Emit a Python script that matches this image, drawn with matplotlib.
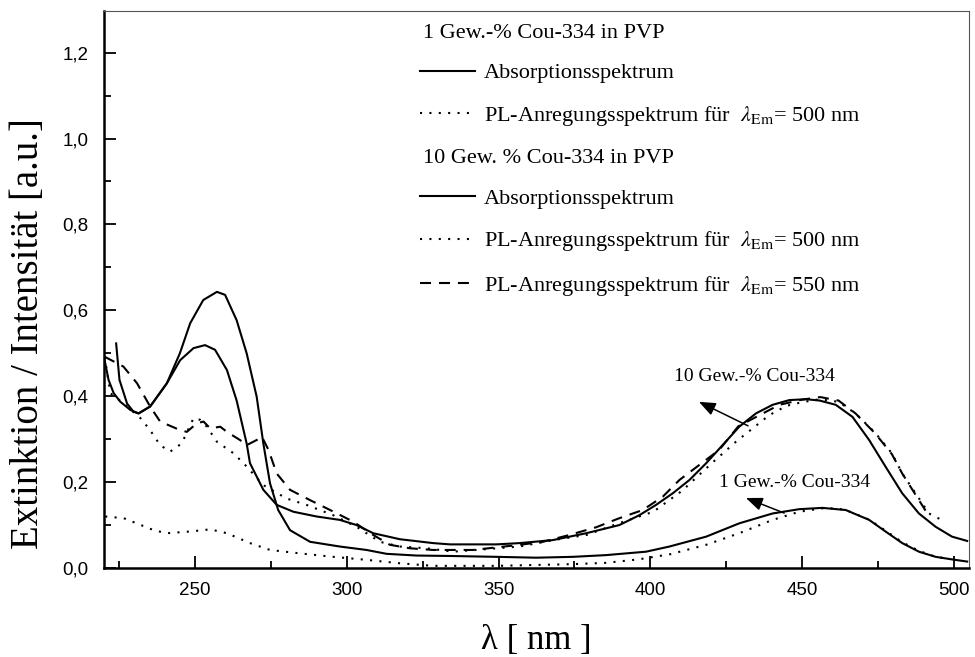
import matplotlib
matplotlib.use("Agg")
import matplotlib.pyplot as plt
from matplotlib.ticker import MultipleLocator, FuncFormatter
import numpy as np

# --- data (wavelength in nm, extinction / intensity) ---
abs1_nm = [224.0, 225.1, 227.6, 229.7, 231.4, 235.2, 240.7, 245.0, 248.4, 252.7,
           257.2, 259.9, 263.7, 267.0, 270.3, 272.5, 274.7, 277.4, 281.3, 287.9,
           297.7, 306.5, 313.1, 323.0, 334.0, 349.3, 362.4, 374.5, 385.4, 398.6,
           406.3, 418.4, 429.3, 440.3, 449.1, 456.7, 464.4, 472.1, 477.5, 483.0,
           488.5, 494.0, 499.4, 504.4]
abs1_val = [0.523, 0.438, 0.383, 0.364, 0.360, 0.376, 0.430, 0.500, 0.570, 0.624,
            0.643, 0.636, 0.577, 0.500, 0.399, 0.290, 0.197, 0.135, 0.088, 0.061,
            0.050, 0.042, 0.033, 0.029, 0.028, 0.026, 0.024, 0.026, 0.030, 0.038,
            0.050, 0.073, 0.104, 0.127, 0.137, 0.140, 0.135, 0.112, 0.085, 0.058,
            0.038, 0.026, 0.020, 0.015]

abs10_nm = [220.2, 221.5, 223.2, 225.4, 228.7, 231.4, 235.2, 240.7, 245.1, 249.5,
            253.3, 256.6, 260.5, 263.7, 267.0, 268.1, 272.5, 276.9, 282.4, 290.0,
            297.7, 303.2, 308.7, 317.5, 328.4, 334.0, 349.3, 357.0, 367.9, 378.9,
            389.8, 396.4, 401.9, 407.4, 412.9, 418.4, 423.8, 429.3, 434.8, 440.3,
            445.8, 451.3, 455.7, 461.1, 466.6, 472.1, 477.5, 483.0, 488.5, 494.0,
            499.4, 504.4]
abs10_val = [0.484, 0.438, 0.407, 0.387, 0.368, 0.360, 0.376, 0.430, 0.484, 0.512,
             0.519, 0.508, 0.461, 0.390, 0.290, 0.244, 0.182, 0.147, 0.131, 0.120,
             0.112, 0.100, 0.081, 0.067, 0.058, 0.055, 0.055, 0.058, 0.065, 0.081,
             0.100, 0.123, 0.147, 0.174, 0.205, 0.244, 0.286, 0.329, 0.360, 0.380,
             0.391, 0.393, 0.390, 0.380, 0.352, 0.298, 0.236, 0.174, 0.127, 0.096,
             0.073, 0.063]

pl1_500_nm = [220.4, 226.5, 236.4, 240.7, 248.4, 255.0, 260.5, 268.1, 274.7, 284.6,
              295.5, 306.5, 317.5, 328.4, 349.3, 374.5, 385.4, 396.0, 406.5, 418.4,
              429.3, 440.3, 449.1, 457.7, 464.0, 472.0, 477.5, 483.0, 488.5, 494.0,
              498.0]
pl1_500_val = [0.120, 0.116, 0.088, 0.081, 0.085, 0.090, 0.081, 0.058, 0.042, 0.034,
               0.026, 0.019, 0.011, 0.005, 0.005, 0.009, 0.012, 0.020, 0.032, 0.054,
               0.081, 0.112, 0.131, 0.140, 0.136, 0.113, 0.087, 0.060, 0.040, 0.026,
               0.022]

pl10_500_nm = [220.2, 222.1, 226.5, 232.0, 235.2, 238.5, 241.8, 245.6, 249.5, 251.7,
               253.9, 257.2, 262.7, 266.5, 272.5, 280.1, 286.7, 295.5, 303.2, 310.9,
               317.5, 326.2, 335.0, 357.0, 368.0, 379.0, 390.0, 401.0, 410.5, 420.4,
               428.2, 439.2, 445.0, 450.0, 455.7, 462.0, 467.6, 474.2, 479.6, 483.0,
               487.4, 491.8, 496.5]
pl10_500_val = [0.492, 0.407, 0.383, 0.349, 0.321, 0.286, 0.271, 0.290, 0.349, 0.345,
                0.329, 0.294, 0.267, 0.240, 0.193, 0.162, 0.147, 0.123, 0.096, 0.061,
                0.050, 0.046, 0.038, 0.050, 0.065, 0.077, 0.105, 0.131, 0.180, 0.245,
                0.294, 0.356, 0.378, 0.386, 0.393, 0.387, 0.360, 0.314, 0.267, 0.220,
                0.174, 0.127, 0.110]

pl10_550_nm = [220.2, 226.4, 230.9, 235.2, 238.5, 245.1, 247.3, 250.6, 252.8, 255.0,
               258.3, 260.5, 264.8, 267.0, 270.3, 272.0, 274.2, 276.9, 281.3, 287.9,
               294.5, 302.1, 308.7, 314.2, 320.7, 328.4, 335.0, 341.6, 349.3, 357.0,
               364.6, 373.4, 382.2, 389.8, 397.5, 404.1, 409.6, 422.7, 429.0, 442.5,
               450.0, 456.0, 462.0, 467.6, 474.0, 479.6, 483.0, 487.0, 491.0]
pl10_550_val = [0.492, 0.469, 0.430, 0.376, 0.341, 0.321, 0.317, 0.337, 0.341, 0.325,
                0.329, 0.317, 0.298, 0.286, 0.298, 0.306, 0.275, 0.220, 0.182, 0.158,
                0.135, 0.108, 0.077, 0.054, 0.046, 0.042, 0.042, 0.042, 0.048, 0.054,
                0.061, 0.077, 0.095, 0.116, 0.135, 0.166, 0.205, 0.275, 0.330, 0.380,
                0.392, 0.398, 0.390, 0.360, 0.314, 0.265, 0.220, 0.175, 0.130]

# annotation arrows: (tail, tip) in data units, text centre
note10_tail, note10_tip, note10_text = (432.2, 0.331), (416.0, 0.387), (434.2, 0.447)
note1_tail, note1_tip, note1_text = (444.1, 0.128), (431.5, 0.163), (447.4, 0.198)

SERIF = "Liberation Serif"
plt.rcParams["font.family"] = ["Liberation Sans", "DejaVu Sans"]
plt.rcParams["mathtext.fontset"] = "stix"

fig = plt.figure(figsize=(9.75, 6.57), dpi=100)
ax = fig.add_axes([104 / 975, 1 - 568 / 657, 865 / 975, 557 / 657])

dotted = (0, (1, 3.5))
dashed = (0, (5.3, 3.8))

l_abs1, = ax.plot(abs1_nm, abs1_val, color="k", lw=1.5)
l_pl1, = ax.plot(pl1_500_nm, pl1_500_val, color="k", lw=1.5, linestyle=dotted)
l_abs10, = ax.plot(abs10_nm, abs10_val, color="k", lw=1.5)
l_pl10, = ax.plot(pl10_500_nm, pl10_500_val, color="k", lw=1.5, linestyle=dotted)
l_pl10b, = ax.plot(pl10_550_nm, pl10_550_val, color="k", lw=1.5, linestyle=dashed)

ax.set_xlim(220, 505)
ax.set_ylim(0, 1.297)

ax.xaxis.set_major_locator(MultipleLocator(50))
ax.xaxis.set_minor_locator(MultipleLocator(25))
ax.yaxis.set_major_locator(MultipleLocator(0.2))
ax.yaxis.set_minor_locator(MultipleLocator(0.1))
ax.yaxis.set_major_formatter(FuncFormatter(lambda v, p: f"{v:.1f}".replace(".", ",")))

ax.tick_params(which="both", direction="in", top=False, right=False, width=1.3,
               labelsize=13.5)
ax.tick_params(which="major", length=8.6)
ax.tick_params(which="minor", length=5)
ax.tick_params(axis="y", pad=11)
ax.tick_params(axis="x", pad=10)

for side in ["left", "bottom"]:
    ax.spines[side].set_linewidth(1.8)
for side in ["top", "right"]:
    ax.spines[side].set_linewidth(0.8)
    ax.spines[side].set_color("#555555")

ax.set_ylabel("Extinktion / Intensität [a.u.]", family=SERIF, fontsize=28)
ax.yaxis.set_label_coords(-0.066, 0.42)
ax.set_xlabel(r"λ [ nm ]", family=SERIF, fontsize=25, labelpad=18)

# legend with two header rows
blank1, = ax.plot([], [], color="none")
blank2, = ax.plot([], [], color="none")
handles = [blank1, l_abs1, l_pl1, blank2, l_abs10, l_pl10, l_pl10b]
labels = ["1 Gew.-% Cou-334 in PVP",
          "Absorptionsspektrum",
          r"PL-Anregungsspektrum für  $\lambda_{\rm Em}$= 500 nm",
          "10 Gew. % Cou-334 in PVP",
          "Absorptionsspektrum",
          r"PL-Anregungsspektrum für  $\lambda_{\rm Em}$= 500 nm",
          r"PL-Anregungsspektrum für  $\lambda_{\rm Em}$= 550 nm"]
leg = ax.legend(handles, labels, loc="upper left", bbox_to_anchor=(0.365, 0.98),
                frameon=False, borderaxespad=0, borderpad=0, handlelength=2.5,
                handletextpad=0.4, labelspacing=0.91,
                prop={"family": SERIF, "size": 16})
for i in (0, 3):
    leg.get_texts()[i].set_x(-61)

# annotations
arrow_style = "-|>,head_length=1.0,head_width=0.4"
ax.annotate("", xy=note10_tip, xytext=note10_tail,
            arrowprops=dict(arrowstyle=arrow_style, color="k", lw=1.1,
                            shrinkA=0, shrinkB=0))
ax.text(*note10_text, "10 Gew.-% Cou-334", family=SERIF, fontsize=14,
        ha="center", va="center")
ax.annotate("", xy=note1_tip, xytext=note1_tail,
            arrowprops=dict(arrowstyle=arrow_style, color="k", lw=1.1,
                            shrinkA=0, shrinkB=0))
ax.text(*note1_text, "1 Gew.-% Cou-334", family=SERIF, fontsize=14,
        ha="center", va="center")

fig.savefig("out.png", dpi=100)
